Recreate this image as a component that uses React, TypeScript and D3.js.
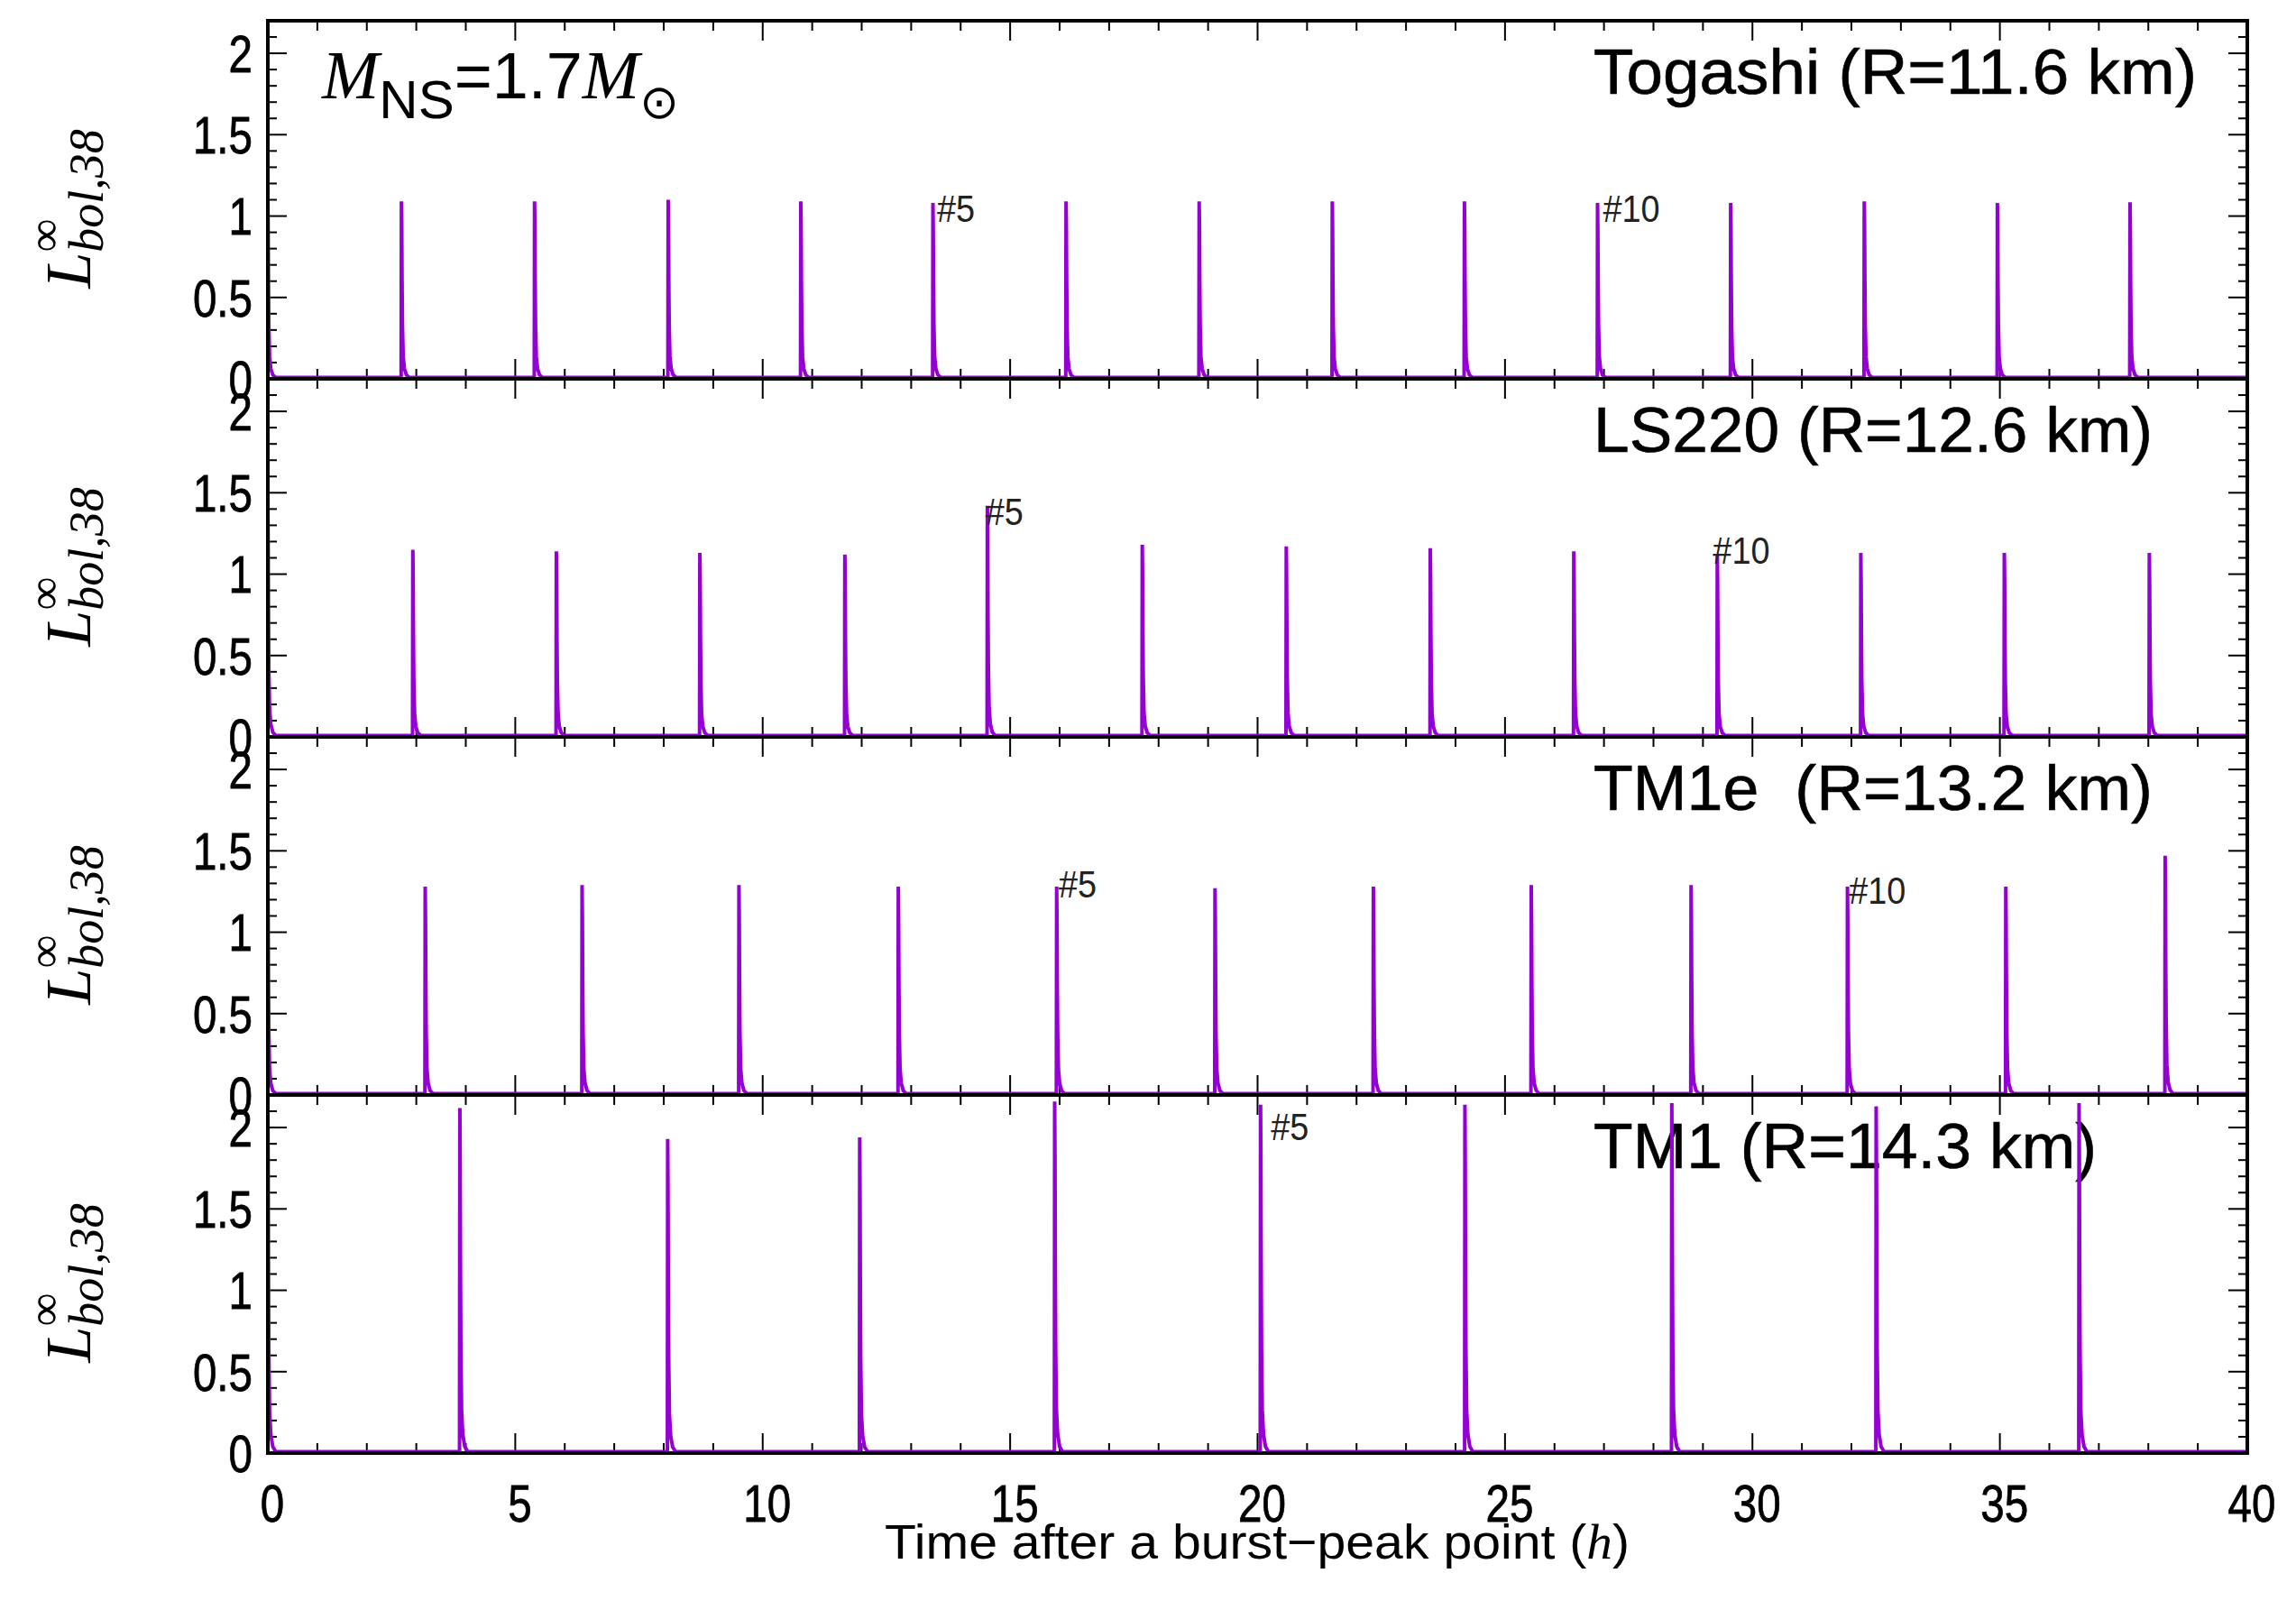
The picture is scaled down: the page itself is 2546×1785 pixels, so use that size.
import React from "react";
import * as d3 from "d3";

const WIDTH = 2546;
const HEIGHT = 1785;

// ---- axis ticks ----
const X_TICKS = [0, 5, 10, 15, 20, 25, 30, 35, 40];
const X_MINOR_TICKS = d3.range(0, 41, 1);
const Y_TICKS = [0, 0.5, 1, 1.5, 2];
const Y_TICK_LABELS = ["0", "0.5", "1", "1.5", "2"];
const Y_MINOR_TICKS = d3.range(0, 22, 1).map((d) => d / 10);

// ---- panel labels ----
const PANEL_LABELS = [
  "Togashi (R=11.6 km)",
  "LS220 (R=12.6 km)",
  "TM1e\u00a0\u00a0(R=13.2 km)",
  "TM1 (R=14.3 km)",
];

// ---- burst onset times (h) and peak luminosities ----
const TOGASHI_TIMES = [2.70, 5.39, 8.09, 10.77, 13.44, 16.13, 18.82, 21.51, 24.18, 26.87, 29.56, 32.26, 34.95, 37.63];
const TOGASHI_PEAKS = [1.09, 1.09, 1.10, 1.09, 1.08, 1.09, 1.09, 1.09, 1.09, 1.08, 1.08, 1.09, 1.08, 1.085];

const LS220_TIMES = [2.93, 5.83, 8.73, 11.66, 14.54, 17.67, 20.58, 23.49, 26.39, 29.29, 32.19, 35.09, 38.02];
const LS220_PEAKS = [1.15, 1.14, 1.13, 1.12, 1.42, 1.18, 1.17, 1.16, 1.14, 1.12, 1.13, 1.13, 1.13];

const TM1E_TIMES = [3.18, 6.35, 9.52, 12.74, 15.94, 19.14, 22.34, 25.53, 28.76, 31.92, 35.12, 38.34];
const TM1E_PEAKS = [1.28, 1.29, 1.29, 1.28, 1.28, 1.27, 1.28, 1.29, 1.29, 1.28, 1.28, 1.47];

const TM1_TIMES = [3.88, 8.08, 11.96, 15.90, 20.06, 24.19, 28.37, 32.50, 36.60];
const TM1_PEAKS = [2.12, 1.93, 1.94, 2.16, 2.14, 2.14, 2.15, 2.13, 2.15];

// luminosity at t = 0 (the burst-peak point)
const INITIAL_PEAKS = [1.09, 1.40, 1.28, 2.10];
const QUIESCENT_LEVEL = 0.008;

// burst light-curve profile (hours after onset, fraction of peak)
const PROFILE_DT = [-0.006, 0, 0.006, 0.012, 0.02, 0.035, 0.06, 0.1, 0.16];
const PROFILE_FRAC = [0, 1, 0.85, 0.55, 0.3, 0.12, 0.05, 0.015, 0];

// burst number annotations
const MARK_TEXT = [["#5", "#10"], ["#5", "#10"], ["#5", "#10"], ["#5"]];
const MARK_T = [[13.52, 26.98], [14.5, 29.2], [15.98, 31.95], [20.27]];
const MARK_Y = [[1.05, 1.05], [1.39, 1.15], [1.30, 1.26], [2.01]];

const ALL_TIMES = [TOGASHI_TIMES, LS220_TIMES, TM1E_TIMES, TM1_TIMES];
const ALL_PEAKS = [TOGASHI_PEAKS, LS220_PEAKS, TM1E_PEAKS, TM1_PEAKS];

// ---- layout ----
const X0 = 297;
const X1 = 2492;
const TOP = 23;
const PANEL_H = 397;
const LABEL_WIDTHS = [669, 620, 620, 558];
const LINE_COLOR = "#9400d3";
const SANS = "'Liberation Sans', Arial, Helvetica, sans-serif";
const SERIF = "'Liberation Serif', 'Times New Roman', serif";
const SX = 0.82;

function buildSeries(times: number[], peaks: number[], p0: number): [number, number][] {
  const pts: [number, number][] = [];
  PROFILE_DT.forEach((dt, i) => {
    if (dt >= 0) pts.push([dt, QUIESCENT_LEVEL + PROFILE_FRAC[i] * (p0 - QUIESCENT_LEVEL)]);
  });
  times.forEach((t, k) => {
    PROFILE_DT.forEach((dt, i) => {
      pts.push([t + dt, QUIESCENT_LEVEL + PROFILE_FRAC[i] * (peaks[k] - QUIESCENT_LEVEL)]);
    });
  });
  pts.push([40, QUIESCENT_LEVEL]);
  return pts;
}

export default function App() {
  const x = d3.scaleLinear().domain([0, 40]).range([X0, X1]);

  const panels = [0, 1, 2, 3].map((p) => {
    const top = TOP + p * PANEL_H;
    const y = d3.scaleLinear().domain([0, 2.2]).range([top + PANEL_H, top]);
    const series = buildSeries(ALL_TIMES[p], ALL_PEAKS[p], INITIAL_PEAKS[p]);
    const line = d3
      .line<[number, number]>()
      .x((d) => x(d[0]))
      .y((d) => y(d[1]));
    return { p, top, y, path: line(series) || "" };
  });

  return (
    <svg
      width={WIDTH}
      height={HEIGHT}
      viewBox={`0 0 ${WIDTH} ${HEIGHT}`}
      style={{ position: "absolute", left: 0, top: 0, display: "block", background: "#fff" }}
    >
      <defs>
        {panels.map(({ p, top }) => (
          <clipPath id={`clip${p}`} key={p}>
            <rect x={X0} y={top} width={X1 - X0} height={PANEL_H} />
          </clipPath>
        ))}
      </defs>
      <rect x={0} y={0} width={WIDTH} height={HEIGHT} fill="#fff" />

      {panels.map(({ p, top, y, path }) => (
        <g key={p}>
          {/* panel label */}
          <text
            x={1767}
            y={top + 81}
            fontFamily={SANS}
            fontSize={71}
            textLength={LABEL_WIDTHS[p]}
            lengthAdjust="spacingAndGlyphs"
            fill="#000"
            stroke="#000"
            strokeWidth={0.6}
          >
            {PANEL_LABELS[p]}
          </text>

          {/* x ticks (top and bottom, inward) */}
          {X_MINOR_TICKS.map((v) => {
            const major = v % 5 === 0;
            const len = major ? 22 : 11;
            return (
              <g key={`xt${v}`} stroke="#000" strokeWidth={2}>
                <line x1={x(v)} x2={x(v)} y1={top + PANEL_H} y2={top + PANEL_H - len} />
                <line x1={x(v)} x2={x(v)} y1={top} y2={top + len} />
              </g>
            );
          })}
          {/* y ticks (left and right, inward) */}
          {Y_MINOR_TICKS.map((v, i) => {
            const major = i % 5 === 0;
            const len = major ? 21 : 10;
            return (
              <g key={`yt${i}`} stroke="#000" strokeWidth={2}>
                <line x1={X0} x2={X0 + len} y1={y(v)} y2={y(v)} />
                <line x1={X1} x2={X1 - len} y1={y(v)} y2={y(v)} />
              </g>
            );
          })}
          {/* y tick labels */}
          {Y_TICKS.map((v, i) => (
            <g key={`yl${i}`} transform={`translate(280,${y(v)}) scale(${SX},1)`}>
              <text
                textAnchor="end"
                dy="0.36em"
                fontFamily={SANS}
                fontSize={58}
                fill="#000"
                stroke="#000"
                strokeWidth={0.8}
              >
                {Y_TICK_LABELS[i]}
              </text>
            </g>
          ))}

          {/* y axis title */}
          <g transform={`translate(100,${top + PANEL_H / 2 + 10}) rotate(-90)`}>
            <text textAnchor="middle" fontFamily={SERIF} fontStyle="italic" fill="#000">
              <tspan fontSize={72}>L</tspan>
              <tspan fontSize={54} dy={14}>bol,38</tspan>
            </text>
            <text x={-48} y={-33} fontFamily={SERIF} fontSize={52} fill="#000">
              ∞
            </text>
          </g>

          {/* light curve */}
          <path
            d={path}
            fill="none"
            stroke={LINE_COLOR}
            strokeWidth={4}
            clipPath={`url(#clip${p})`}
          />

          {/* burst number labels */}
          {MARK_TEXT[p].map((t, i) => (
            <g key={`m${i}`} transform={`translate(${x(MARK_T[p][i])},${y(MARK_Y[p][i])}) scale(0.88,1)`}>
              <text dy="0.36em" fontFamily={SANS} fontSize={43} fill="#222">
                {t}
              </text>
            </g>
          ))}

          {/* frame */}
          <rect x={X0} y={top} width={X1 - X0} height={PANEL_H} fill="none" stroke="#000" strokeWidth={4} />
        </g>
      ))}

      {/* mass label */}
      <text x={357} y={109} fill="#000">
        <tspan fontFamily={SERIF} fontStyle="italic" fontSize={76}>M</tspan>
        <tspan fontFamily={SANS} fontSize={60} dy={22}>NS</tspan>
        <tspan fontFamily={SANS} fontSize={72} dy={-22}>=1.7</tspan>
        <tspan fontFamily={SERIF} fontStyle="italic" fontSize={76}>M</tspan>
        <tspan fontFamily="'DejaVu Sans', sans-serif" fontSize={52} dy={22}>⊙</tspan>
      </text>

      {/* x tick labels */}
      {X_TICKS.map((v) => (
        <g key={`xl${v}`} transform={`translate(${x(v) + 5},1687) scale(${SX},1)`}>
          <text
            textAnchor="middle"
            fontFamily={SANS}
            fontSize={58}
            fill="#000"
            stroke="#000"
            strokeWidth={0.8}
          >
            {String(v)}
          </text>
        </g>
      ))}

      {/* x axis title */}
      <text
        x={1394}
        y={1728}
        textAnchor="middle"
        fontFamily={SANS}
        fontSize={54}
        textLength={826}
        lengthAdjust="spacingAndGlyphs"
        fill="#000"
      >
        Time after a burst−peak point (<tspan fontFamily={SERIF} fontStyle="italic">h</tspan>)
      </text>
    </svg>
  );
}
